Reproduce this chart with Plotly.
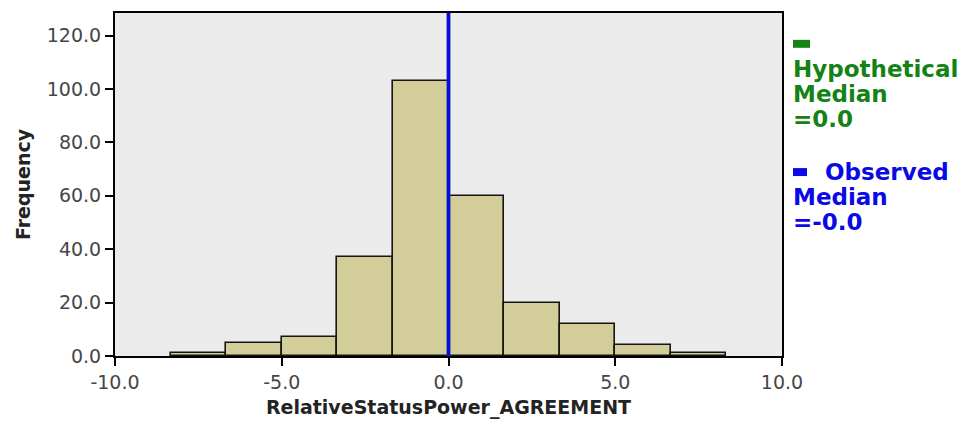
import plotly.graph_objects as go

bin_edges = [-8.333, -6.667, -5.0, -3.333, -1.667, 0.0, 1.667, 3.333, 5.0, 6.667, 8.333]
counts = [1, 5, 7, 37, 103, 60, 20, 12, 4, 1]
hypothetical_median = 0.0
observed_median = 0.0
x_ticks = [-10, -5, 0, 5, 10]
x_tick_labels = ["-10.0", "-5.0", "0.0", "5.0", "10.0"]
y_ticks = [0, 20, 40, 60, 80, 100, 120]
y_tick_labels = ["0.0", "20.0", "40.0", "60.0", "80.0", "100.0", "120.0"]

centers = [(a + b) / 2 for a, b in zip(bin_edges[:-1], bin_edges[1:])]
widths = [b - a for a, b in zip(bin_edges[:-1], bin_edges[1:])]

GREEN = "rgb(20,130,20)"
BLUE = "rgb(10,10,230)"

# page is offset by the 8px body margin
OFF = 8
L, R, T, B = 115, 782, 11, 356
W, H = 967, 425

fig = go.Figure()
fig.add_trace(go.Bar(
    x=centers, y=counts, width=widths,
    marker=dict(color="rgb(211,206,153)", line=dict(color="rgb(20,20,20)", width=1.6)),
    showlegend=False, hoverinfo="x+y",
))

# median lines
fig.add_shape(type="line", xref="x", yref="paper", x0=hypothetical_median, x1=hypothetical_median,
              y0=0, y1=1, line=dict(color=GREEN, width=3.5))
fig.add_shape(type="line", xref="x", yref="paper", x0=observed_median, x1=observed_median,
              y0=0, y1=1, line=dict(color=BLUE, width=3.5))

fig.update_layout(
    width=W, height=H,
    margin=dict(l=L - OFF, r=W + OFF - R, t=T - OFF, b=H + OFF - B),
    paper_bgcolor="white",
    plot_bgcolor="rgb(235,235,235)",
    bargap=0,
    font=dict(family="DejaVu Sans", color="rgb(50,50,50)"),
    xaxis=dict(
        range=[-10, 10], tickvals=x_ticks, ticktext=x_tick_labels,
        ticks="outside", ticklen=8, tickwidth=2, tickcolor="black",
        showline=True, linecolor="black", linewidth=2, mirror=True,
        showgrid=False, zeroline=False,
        tickfont=dict(size=19, color="rgb(70,70,70)"),
        title=dict(text="<b>RelativeStatusPower_AGREEMENT</b>", font=dict(size=19, color="rgb(35,35,35)"), standoff=9),
    ),
    yaxis=dict(
        range=[0, 128.5], tickvals=y_ticks, ticktext=y_tick_labels,
        ticks="outside", ticklen=8, tickwidth=2, tickcolor="black",
        showline=True, linecolor="black", linewidth=2, mirror=True,
        showgrid=False, zeroline=False,
        tickfont=dict(size=19, color="rgb(70,70,70)"),
        title=dict(text="<b>Frequency</b>", font=dict(size=19, color="rgb(35,35,35)"), standoff=11),
    ),
)

def py(p):
    return (B - p) / float(B - T)

def px(p):
    return (p - L) / float(R - L)

legend_lines = [
    ("<b>Hypothetical</b>", 67, GREEN),
    ("<b>Median</b>", 92, GREEN),
    ("<b>=0.0</b>", 118, GREEN),
    ("<b>    Observed</b>", 171, BLUE),
    ("<b>Median</b>", 196, BLUE),
    ("<b>=-0.0</b>", 221, BLUE),
]
for txt, p, c in legend_lines:
    fig.add_annotation(text=txt, xref="paper", yref="paper", x=px(791), y=py(p),
                       xanchor="left", yanchor="middle", showarrow=False,
                       font=dict(size=23, color=c, family="DejaVu Sans"))

# legend swatches
for p, c, x1 in [(42, GREEN, 810), (171, BLUE, 807)]:
    fig.add_shape(type="rect", xref="paper", yref="paper",
                  x0=px(793), x1=px(x1), y0=py(p + 4), y1=py(p - 4),
                  fillcolor=c, line=dict(width=0))

fig.write_html("out.html")
